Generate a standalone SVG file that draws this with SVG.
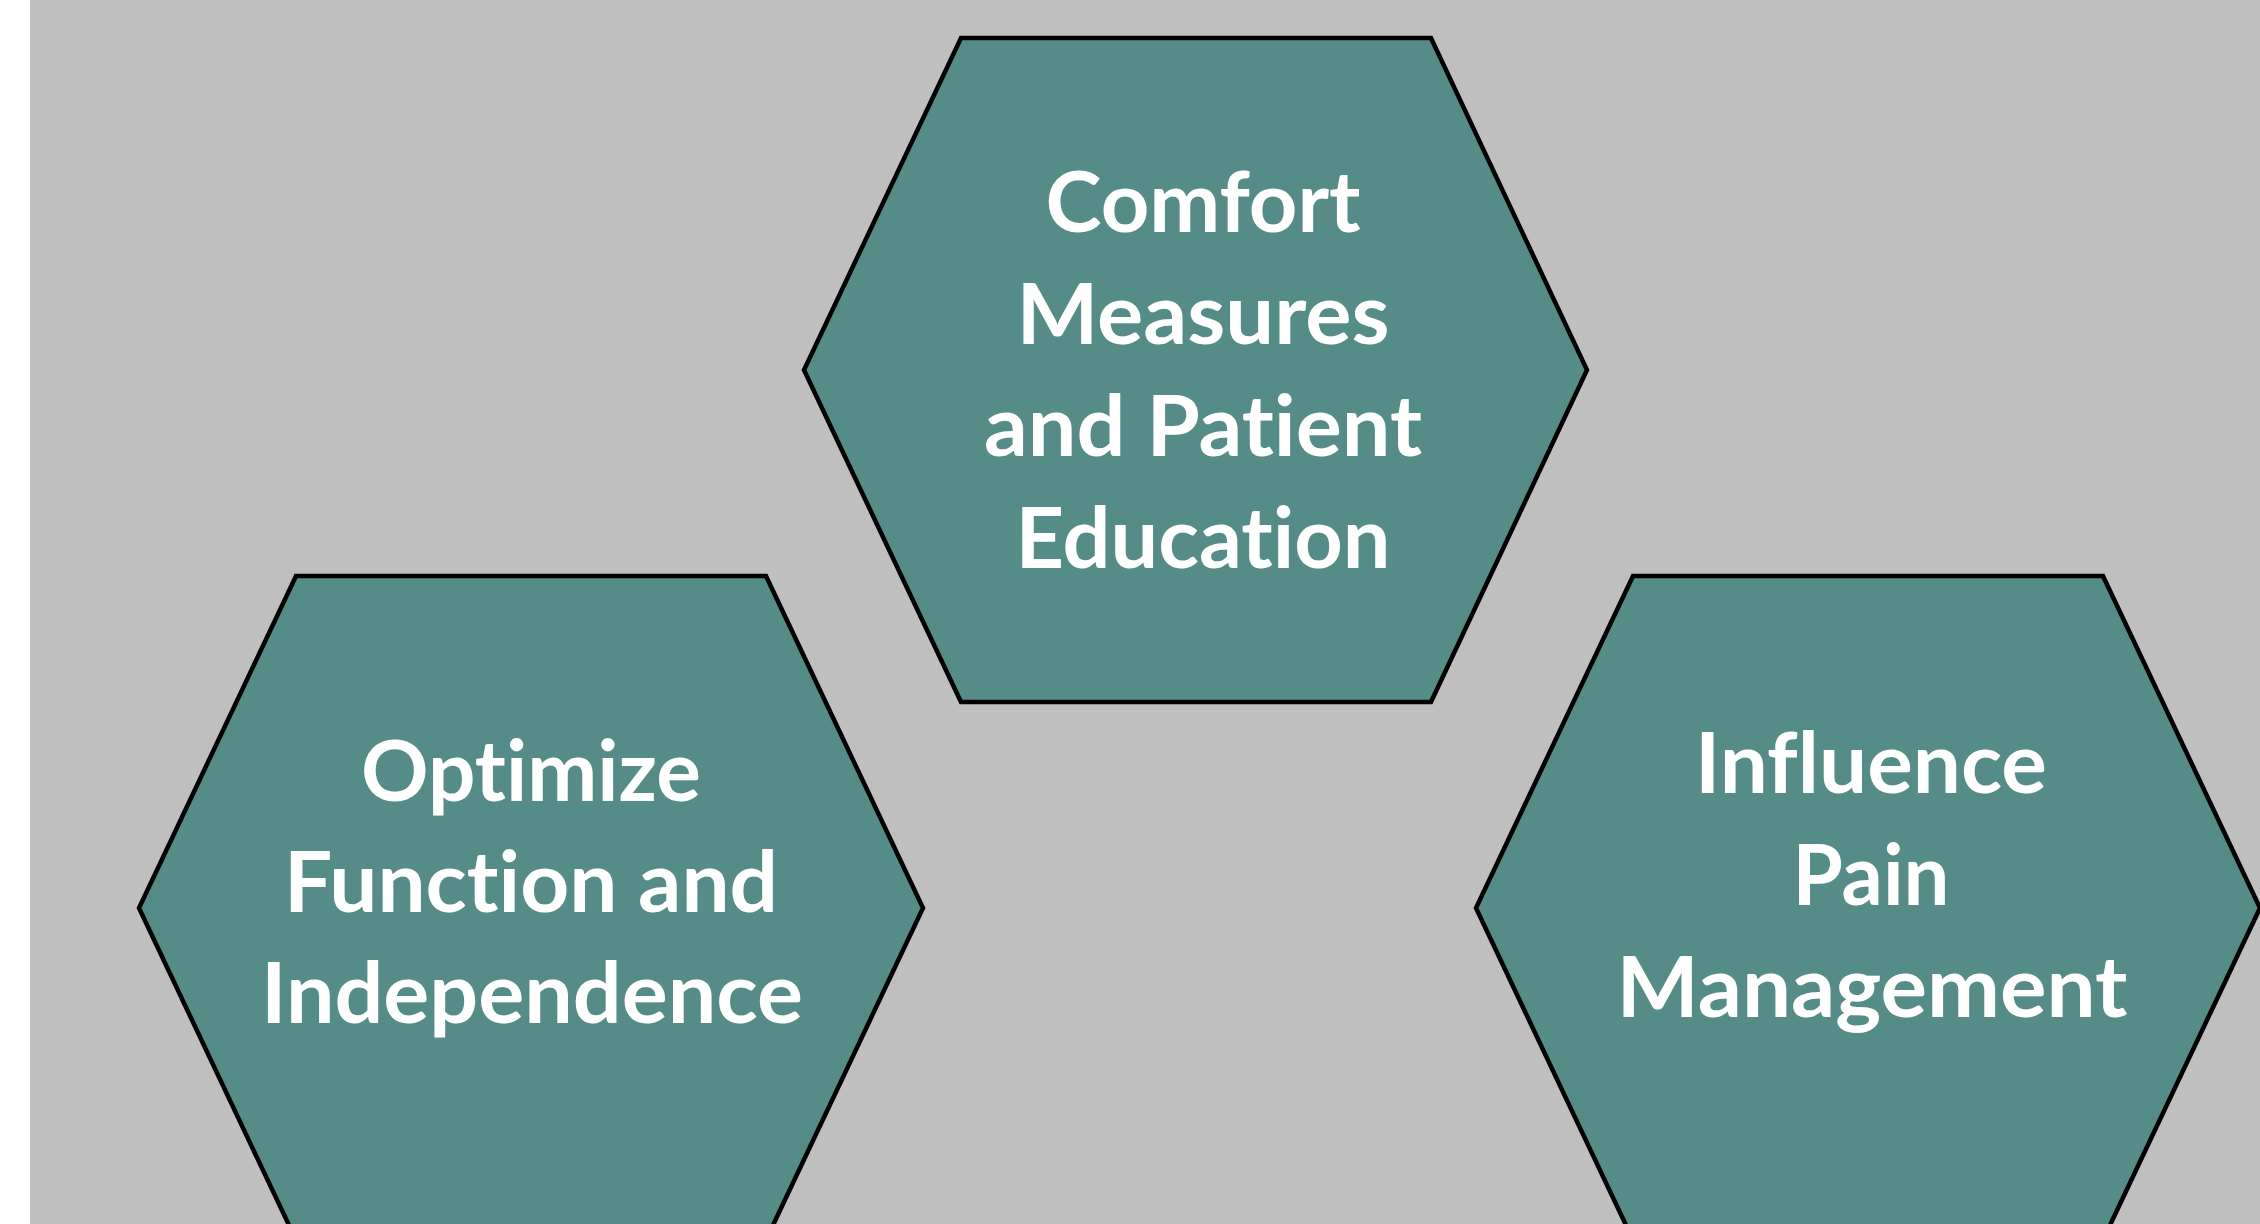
<svg xmlns="http://www.w3.org/2000/svg" width="2260" height="1224" viewBox="0 0 2260 1224">
  <style>
    .hex { fill: #558C87; stroke: #000000; stroke-width: 4.5; stroke-linejoin: miter; }
    .label { font-family: Lato, "Open Sans", "Liberation Sans", sans-serif; font-weight: 700; font-size: 84px; fill: #FFFFFF; text-anchor: middle; font-variant-ligatures: none; font-feature-settings: "liga" 0, "clig" 0; }
  </style>
  <!-- page background with white margin on the left -->
  <rect x="0" y="0" width="2260" height="1224" fill="#FFFFFF"/>
  <rect x="30" y="0" width="2230" height="1224" fill="#BFBFBF"/>

  <g id="connectors"/>

  <g id="node-comfort">
    <polygon class="hex" points="961,38 1431,38 1587,370 1431,702 961,702 804,370"/>
    <text class="label" x="1203" y="232" textLength="315" lengthAdjust="spacingAndGlyphs">Comfort</text>
    <text class="label" x="1203" y="344" textLength="373" lengthAdjust="spacingAndGlyphs">Measures</text>
    <text class="label" x="1203" y="456" textLength="438" lengthAdjust="spacingAndGlyphs">and Patient</text>
    <text class="label" x="1203" y="568" textLength="375" lengthAdjust="spacingAndGlyphs">Education</text>
  </g>

  <g id="node-optimize">
    <polygon class="hex" points="296,576 766,576 923,908 766,1240 296,1240 139,908"/>
    <text class="label" x="531" y="801" textLength="340" lengthAdjust="spacingAndGlyphs">Optimize</text>
    <text class="label" x="531" y="912" textLength="494" lengthAdjust="spacingAndGlyphs">Function and</text>
    <text class="label" x="532" y="1023" textLength="542" lengthAdjust="spacingAndGlyphs">Independence</text>
  </g>

  <g id="node-pain">
    <polygon class="hex" points="1633,576 2103,576 2260,908 2103,1240 1633,1240 1476,908"/>
    <text class="label" x="1871" y="793" textLength="352" lengthAdjust="spacingAndGlyphs">Influence</text>
    <text class="label" x="1871" y="905" textLength="157" lengthAdjust="spacingAndGlyphs">Pain</text>
    <text class="label" x="1872" y="1017" textLength="511" lengthAdjust="spacingAndGlyphs">Management</text>
  </g>
</svg>
